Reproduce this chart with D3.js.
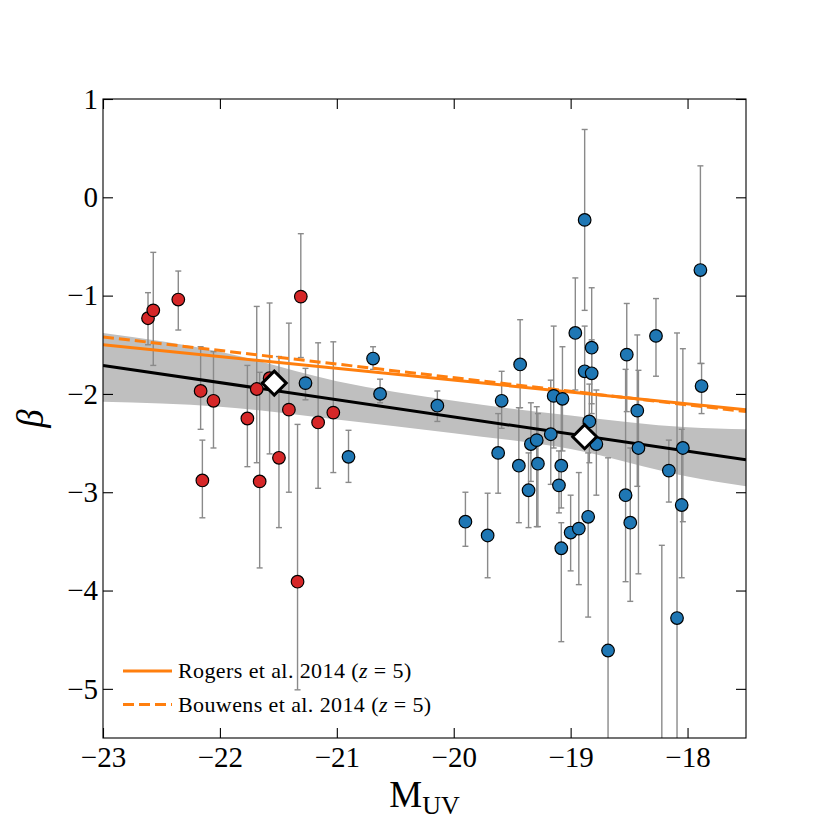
<!DOCTYPE html>
<html>
<head>
<meta charset="utf-8">
<script src="https://cdn.jsdelivr.net/npm/d3@7"></script>
<style>
  body { margin: 0; background: #fff; }
  text { font-family: "Liberation Serif", "DejaVu Serif", serif; }
</style>
</head>
<body>
<div id="chart"></div>
<script>
// beta vs M_UV, red = bright sample, blue = faint sample
var redM    = [-22.615, -22.57, -22.356, -21.308, -22.165, -22.055, -21.765, -21.685, -21.495, -21.41, -21.16, -21.03, -22.15, -21.66, -21.336, -21.575];
var redBeta = [-1.23, -1.15, -1.04, -1.01, -1.97, -2.07, -2.25, -1.95, -2.65, -2.16, -2.29, -2.19, -2.88, -2.89, -3.91, -1.84];
var redHi   = [-0.97, -0.56, -0.75, -0.37, -1.52, -1.57, -1.71, -1.11, -1.62, -1.28, -1.48, -1.47, -2.47, -1.78, -2.31, -1.075];
var redLo   = [-1.50, -1.71, -1.35, -1.63, -2.36, -2.55, -2.74, -2.70, -3.36, -3.00, -2.96, -2.80, -3.26, -3.77, -5.01, -2.61];

var blueM    = [-21.268, -20.69, -20.63, -20.90, -20.14, -19.432, -19.59, -19.62, -19.90, -19.71, -19.443, -19.34, -19.29, -19.28, -19.36, -19.17, -19.145, -19.07, -19.08, -19.10, -19.08, -19.00, -18.93, -18.85, -18.96, -18.82, -18.88, -18.82, -18.84, -18.78, -18.88, -18.52, -18.27, -17.89, -17.88, -18.43, -18.42, -18.04, -18.16, -18.53, -18.49, -18.05, -18.68, -18.09, -18.22];
var blueBeta = [-1.89, -1.64, -2.00, -2.64, -2.12, -1.70, -2.07, -2.60, -3.30, -3.44, -2.73, -2.51, -2.47, -2.71, -2.98, -2.41, -2.02, -2.05, -2.73, -2.93, -3.57, -3.41, -3.37, -3.25, -1.38, -1.53, -1.77, -1.79, -2.28, -2.51, -0.23, -1.60, -1.41, -0.74, -1.92, -2.17, -2.55, -2.55, -2.78, -3.03, -3.31, -3.13, -4.61, -4.28, -6.30];
var blueHi   = [-1.74, -1.52, -1.85, -2.37, -1.97, -1.245, -1.77, -2.20, -3.00, -3.01, -2.14, -2.09, -2.13, -2.20, -2.60, -1.86, -1.31, -1.52, -2.06, -2.58, -3.31, -3.03, -2.80, -2.60, -0.82, -0.92, -1.31, -1.45, -1.90, -1.96, 0.69, -1.08, -1.03, 0.32, -1.69, -1.40, -1.76, -1.54, -2.47, -1.75, -2.55, -2.36, -2.65, -1.38, -3.54];
var blueLo   = [-2.06, -1.75, -2.09, -2.90, -2.28, -2.14, -2.35, -3.01, -3.55, -3.87, -3.31, -2.89, -3.35, -3.35, -3.36, -2.92, -2.55, -2.58, -3.16, -3.21, -4.52, -3.80, -3.94, -4.27, -1.96, -2.10, -2.30, -2.20, -2.70, -3.03, -1.15, -2.18, -1.82, -1.69, -2.20, -2.94, -3.83, -3.30, -3.10, -3.91, -4.11, -3.87, -6.60, -6.90, -8.50];

// literature relations
var litM         = [-23, -17.5];
var rogersBeta   = [-1.50, -2.16];
var bouwensBeta  = [-1.42, -2.18];

// our fit and its confidence band
var fitM    = [-23, -17.5];
var fitBeta = [-1.71, -2.67];
var bandM   = [-23, -22, -21, -20, -19, -18, -17.5];
var bandHi  = [-1.38, -1.57, -1.87, -2.07, -2.22, -2.34, -2.36];
var bandLo  = [-2.08, -2.13, -2.26, -2.40, -2.56, -2.84, -2.94];

// binned medians
var binM    = [-21.535, -18.88];
var binBeta = [-1.89, -2.435];

var xTicks = [-23, -22, -21, -20, -19, -18];
var yTicks = [1, 0, -1, -2, -3, -4, -5];

var margin = {top: 99, right: 84, bottom: 92, left: 103},
    width = 830 - margin.left - margin.right,
    height = 830 - margin.top - margin.bottom;

var svg = d3.select("#chart")
  .append("svg")
    .attr("width", 830)
    .attr("height", 830)
  .append("g")
    .attr("transform", "translate(" + margin.left + "," + margin.top + ")");

var x = d3.scaleLinear().domain([-23, -17.5]).range([0, width]);
var y = d3.scaleLinear().domain([-5.5, 1]).range([height, 0]);

svg.append("clipPath").attr("id", "clip")
  .append("rect").attr("width", width).attr("height", height);

var plot = svg.append("g").attr("clip-path", "url(#clip)");

// confidence band
var band = bandM.map(function(m, i) { return {m: m, hi: bandHi[i], lo: bandLo[i]}; });
plot.append("path")
  .datum(band)
  .attr("fill", "#bfbfbf")
  .attr("d", d3.area()
    .curve(d3.curveMonotoneX)
    .x(function(d) { return x(d.m); })
    .y0(function(d) { return y(d.lo); })
    .y1(function(d) { return y(d.hi); }));

// error bars
function errorBars(M, B, hi, lo) {
  var pts = M.map(function(m, i) { return {m: m, b: B[i], hi: hi[i], lo: lo[i]}; });
  var g = plot.append("g").attr("stroke", "#8a8a8a").attr("stroke-width", 1.4);
  g.selectAll("line.bar").data(pts).enter().append("line")
    .attr("x1", function(d) { return x(d.m); })
    .attr("x2", function(d) { return x(d.m); })
    .attr("y1", function(d) { return y(d.hi); })
    .attr("y2", function(d) { return y(d.lo); });
  ["hi", "lo"].forEach(function(k) {
    g.selectAll("line.cap" + k).data(pts).enter().append("line")
      .attr("x1", function(d) { return x(d.m) - 3; })
      .attr("x2", function(d) { return x(d.m) + 3; })
      .attr("y1", function(d) { return y(d[k]); })
      .attr("y2", function(d) { return y(d[k]); });
  });
  return pts;
}
var redPts = errorBars(redM, redBeta, redHi, redLo);
var bluePts = errorBars(blueM, blueBeta, blueHi, blueLo);

// lines
function line2(M, B, color, dash) {
  plot.append("path")
    .datum(M.map(function(m, i) { return [m, B[i]]; }))
    .attr("fill", "none")
    .attr("stroke", color)
    .attr("stroke-width", 3)
    .attr("stroke-dasharray", dash)
    .attr("d", d3.line().x(function(d) { return x(d[0]); }).y(function(d) { return y(d[1]); }));
}
line2(litM, rogersBeta, "#ff7f0e", null);
line2(litM, bouwensBeta, "#ff7f0e", "11,5");
line2(fitM, fitBeta, "#000", null);

// points
plot.append("g").selectAll("circle").data(redPts).enter().append("circle")
  .attr("cx", function(d) { return x(d.m); })
  .attr("cy", function(d) { return y(d.b); })
  .attr("r", 6.3)
  .attr("fill", "#d62728")
  .attr("stroke", "#000")
  .attr("stroke-width", 1.2);
plot.append("g").selectAll("circle").data(bluePts).enter().append("circle")
  .attr("cx", function(d) { return x(d.m); })
  .attr("cy", function(d) { return y(d.b); })
  .attr("r", 6.3)
  .attr("fill", "#1f77b4")
  .attr("stroke", "#000")
  .attr("stroke-width", 1.2);

// diamonds
plot.append("g").selectAll("path").data(binM).enter().append("path")
  .attr("transform", function(d, i) { return "translate(" + x(d) + "," + y(binBeta[i]) + ")"; })
  .attr("d", "M0,-12L12,0L0,12L-12,0Z")
  .attr("fill", "#fff")
  .attr("stroke", "#000")
  .attr("stroke-width", 3);

// axes, ticks pointing inward on all sides
var fmt = function(d) { return d3.format("d")(d); };
svg.append("g")
  .attr("class", "axis")
  .attr("transform", "translate(0," + height + ")")
  .call(d3.axisBottom(x).tickValues(xTicks).tickSize(-10).tickPadding(8).tickFormat(fmt));
svg.append("g")
  .attr("class", "axis")
  .call(d3.axisLeft(y).tickValues(yTicks).tickSize(-10).tickPadding(5).tickFormat(fmt));
svg.append("g")
  .attr("class", "axis")
  .call(d3.axisTop(x).tickValues(xTicks).tickSize(-10).tickFormat(""));
svg.append("g")
  .attr("class", "axis")
  .attr("transform", "translate(" + width + ",0)")
  .call(d3.axisRight(y).tickValues(yTicks).tickSize(-10).tickFormat(""));
svg.selectAll(".axis .domain").remove();
svg.selectAll(".axis line").attr("stroke", "#000").attr("stroke-width", 1.1);
svg.selectAll(".axis text")
  .attr("fill", "#000")
  .style("font-family", '"Liberation Serif", serif')
  .style("font-size", "29px");

svg.append("rect")
  .attr("width", width).attr("height", height)
  .attr("fill", "none").attr("stroke", "#000").attr("stroke-width", 1.1);

// legend
var legend = [{label: "Rogers et al. 2014 (", dash: null}, {label: "Bouwens et al. 2014 (", dash: "11,5"}];
var lg = svg.append("g").attr("transform", "translate(20," + (height - 67) + ")");
legend.forEach(function(d, i) {
  var row = lg.append("g").attr("transform", "translate(0," + (i * 33.5) + ")");
  row.append("line")
    .attr("x1", 0).attr("x2", 49)
    .attr("stroke", "#ff7f0e").attr("stroke-width", 3)
    .attr("stroke-dasharray", d.dash);
  var t = row.append("text").attr("x", 55).attr("y", 7)
    .style("font-size", "22px").style("letter-spacing", "0.4px");
  t.append("tspan").text(d.label);
  t.append("tspan").style("font-style", "italic").text("z");
  t.append("tspan").text(" = 5)");
});

// axis labels
var xl = svg.append("text")
  .attr("x", width / 2)
  .attr("y", height + 69)
  .attr("text-anchor", "middle")
  .style("font-size", "37px");
xl.append("tspan").text("M");
xl.append("tspan").attr("dy", 7).style("font-size", "26px").text("UV");

svg.append("text")
  .attr("transform", "rotate(-90)")
  .attr("x", -(height / 2))
  .attr("y", -60)
  .attr("text-anchor", "middle")
  .style("font-size", "37px")
  .style("font-style", "italic")
  .text("β");
</script>
</body>
</html>
